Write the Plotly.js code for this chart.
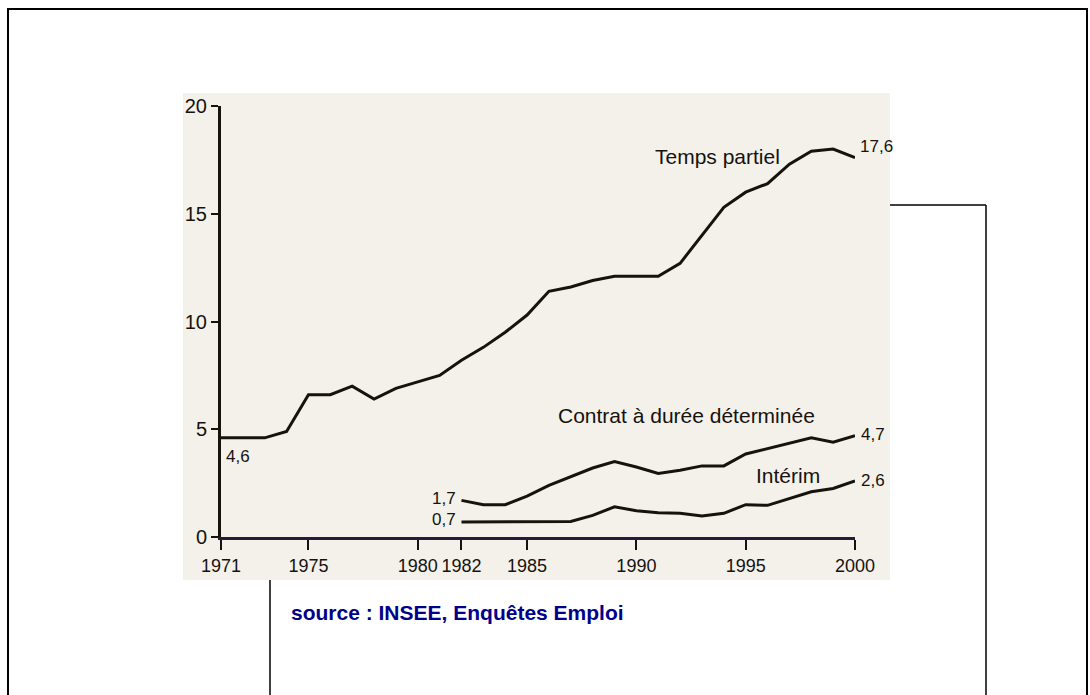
<!DOCTYPE html>
<html>
<head>
<meta charset="utf-8">
<script src="https://cdn.plot.ly/plotly-3.0.1.min.js"></script>
<style>
  html, body { margin: 0; padding: 0; background: #ffffff; }
  #chart { width: 1090px; height: 695px; }
</style>
</head>
<body>
<div id="chart"></div>
<script>
// ---- data ----
const yearsTP = [1971,1972,1973,1974,1975,1976,1977,1978,1979,1980,1981,1982,1983,1984,1985,1986,1987,1988,1989,1990,1991,1992,1993,1994,1995,1996,1997,1998,1999,2000];
const tempsPartiel = [4.6,4.6,4.6,4.9,6.6,6.6,7.0,6.4,6.9,7.2,7.5,8.2,8.8,9.5,10.3,11.4,11.6,11.9,12.1,12.1,12.1,12.7,14.0,15.3,16.0,16.4,17.3,17.9,18.0,17.6];
const yearsCI = [1982,1983,1984,1985,1986,1987,1988,1989,1990,1991,1992,1993,1994,1995,1996,1997,1998,1999,2000];
const cdd = [1.7,1.5,1.5,1.9,2.4,2.8,3.2,3.5,3.25,2.95,3.1,3.3,3.3,3.85,4.1,4.35,4.6,4.4,4.7];
const interim = [0.7,0.7,0.7,0.7,0.7,0.72,1.0,1.4,1.22,1.12,1.1,0.97,1.1,1.5,1.47,1.8,2.1,2.25,2.6];

const seriesNames = ["Temps partiel", "Contrat à durée déterminée", "Intérim"];
const startLabels = ["4,6", "1,7", "0,7"];
const endLabels = ["17,6", "4,7", "2,6"];
const xTicks = [1971,1975,1980,1982,1985,1990,1995,2000];
const yTicks = [0,5,10,15,20];
const sourceText = "source : INSEE, Enquêtes Emploi";

// ---- layout helpers (pixel -> paper) ----
const W = 1090, H = 695;
const L = 221, R = 855, T = 106, B = 537;
const px = x => (x - L) / (R - L);
const py = y => (B - y) / (B - T);

const FONT = "'Liberation Sans', Arial, Helvetica, sans-serif";
const INK = "#16120e";

const lineStyle = {color: INK, width: 3, shape: 'linear'};
const traces = [
  {x: yearsTP, y: tempsPartiel, mode: 'lines', line: lineStyle, name: seriesNames[0], hoverinfo: 'x+y'},
  {x: yearsCI, y: cdd, mode: 'lines', line: lineStyle, name: seriesNames[1], hoverinfo: 'x+y'},
  {x: yearsCI, y: interim, mode: 'lines', line: lineStyle, name: seriesNames[2], hoverinfo: 'x+y'}
];

const lblFont = {family: FONT, size: 17, color: INK};
const nameFont = {family: FONT, size: 21, color: INK};

const annotations = [
  // start values
  {x: yearsTP[0], y: tempsPartiel[0], text: startLabels[0], xanchor: 'left', yanchor: 'middle', xshift: 3, yshift: -19, showarrow: false, font: lblFont},
  {x: yearsCI[0], y: cdd[0], text: startLabels[1], xanchor: 'right', yanchor: 'middle', xshift: -3, yshift: 2, showarrow: false, font: lblFont},
  {x: yearsCI[0], y: interim[0], text: startLabels[2], xanchor: 'right', yanchor: 'middle', xshift: -3, yshift: 2, showarrow: false, font: lblFont},
  // end values
  {x: yearsTP[yearsTP.length-1], y: tempsPartiel[tempsPartiel.length-1], text: endLabels[0], xanchor: 'left', yanchor: 'middle', xshift: 3, yshift: 11, showarrow: false, font: lblFont},
  {x: yearsCI[yearsCI.length-1], y: cdd[cdd.length-1], text: endLabels[1], xanchor: 'left', yanchor: 'middle', xshift: 4, yshift: 1, showarrow: false, font: lblFont},
  {x: yearsCI[yearsCI.length-1], y: interim[interim.length-1], text: endLabels[2], xanchor: 'left', yanchor: 'middle', xshift: 4, yshift: 0, showarrow: false, font: lblFont},
  // series names
  {x: 1993.7, y: 17.66, text: seriesNames[0], xanchor: 'center', yanchor: 'middle', showarrow: false, font: nameFont},
  {x: 1992.27, y: 5.66, text: seriesNames[1], xanchor: 'center', yanchor: 'middle', showarrow: false, font: nameFont},
  {x: 1996.94, y: 2.87, text: seriesNames[2], xanchor: 'center', yanchor: 'middle', showarrow: false, font: nameFont},
  // source
  {xref: 'paper', yref: 'paper', x: px(289), y: py(612), text: '<b>' + sourceText + '</b>', xanchor: 'left', yanchor: 'middle', showarrow: false,
   font: {family: FONT, size: 21, color: '#00008b'}}
];

const shapes = [
  // scanned-paper background
  {type: 'rect', xref: 'paper', yref: 'paper', x0: px(183), x1: px(890), y0: py(580), y1: py(93), fillcolor: '#f4f1eb', line: {width: 0}, layer: 'below'},
  // outer frame
  {type: 'rect', xref: 'paper', yref: 'paper', x0: px(8), x1: px(1087), y0: py(705), y1: py(9), fillcolor: 'rgba(0,0,0,0)', line: {color: '#000', width: 2}, layer: 'below'},
  // inner frame lines
  {type: 'line', xref: 'paper', yref: 'paper', x0: px(890), x1: px(986), y0: py(205), y1: py(205), line: {color: '#000', width: 1.5}},
  {type: 'line', xref: 'paper', yref: 'paper', x0: px(986), x1: px(986), y0: py(205), y1: py(705), line: {color: '#000', width: 1.5}},
  {type: 'line', xref: 'paper', yref: 'paper', x0: px(270), x1: px(270), y0: py(580), y1: py(705), line: {color: '#000', width: 1.5}}
];

const layout = {
  width: W, height: H,
  margin: {l: L, r: W - R, t: T, b: H - B, pad: 0},
  paper_bgcolor: '#ffffff',
  plot_bgcolor: 'rgba(0,0,0,0)',
  showlegend: false,
  xaxis: {
    range: [1971, 2000], tickmode: 'array', tickvals: xTicks, ticktext: xTicks.map(String),
    tickangle: 0, automargin: false,
    showgrid: false, zeroline: false, showline: true, linecolor: '#2a1838', linewidth: 3,
    ticks: 'outside', ticklen: 10, tickwidth: 2, tickcolor: INK,
    tickfont: {family: FONT, size: 18, color: INK}, fixedrange: true
  },
  yaxis: {
    range: [0, 20], tickmode: 'array', tickvals: yTicks, ticktext: yTicks.map(String),
    automargin: false,
    showgrid: false, zeroline: false, showline: true, linecolor: INK, linewidth: 3,
    ticks: 'outside', ticklen: 7, tickwidth: 2, tickcolor: INK,
    tickfont: {family: FONT, size: 20, color: INK}, fixedrange: true
  },
  annotations: annotations,
  shapes: shapes
};

Plotly.newPlot('chart', traces, layout, {displayModeBar: false, staticPlot: true});
</script>
</body>
</html>
